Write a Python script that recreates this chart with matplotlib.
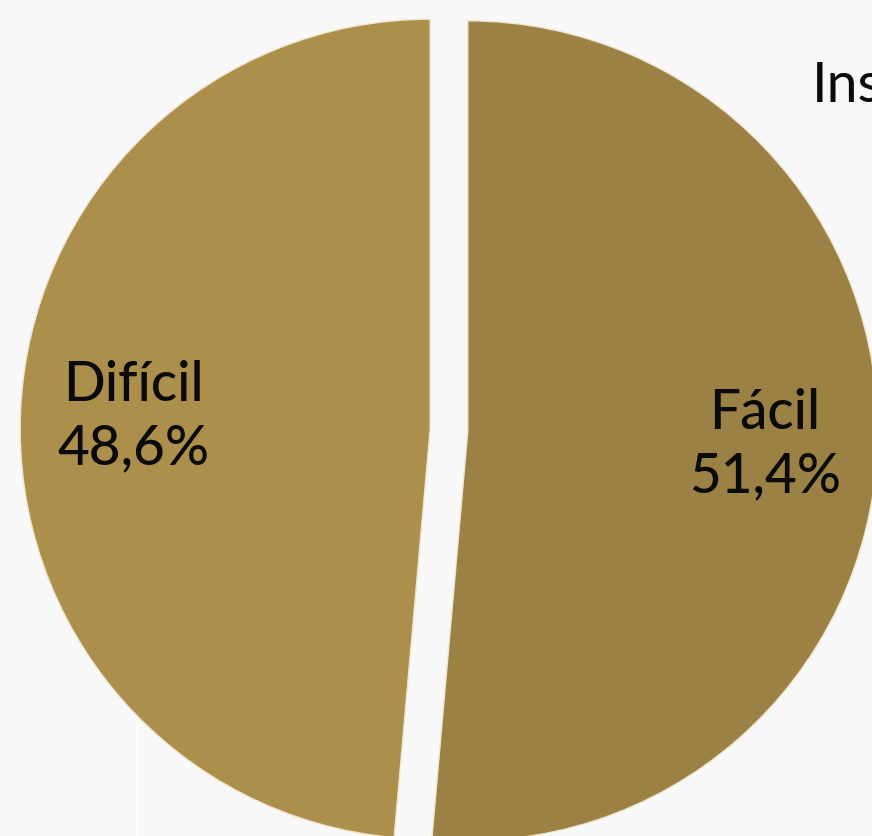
import matplotlib.pyplot as plt
from matplotlib.lines import Line2D

labels = ["Fácil", "Difícil"]
values = [51.4, 48.6]
colors = ["#9b8143", "#ad8f4c"]

plt.rcParams['font.family'] = ['Lato', 'DejaVu Sans']

fig = plt.figure(figsize=(8.72, 8.37), dpi=100, facecolor="#f8f8f8")
ax = fig.add_axes([0, 0, 1, 1])
ax.set_facecolor("#f8f8f8")

def fmt(pct):
    # label text is placed by autopct so it sits inside each wedge
    i = min(range(len(values)), key=lambda k: abs(values[k] - pct))
    return labels[i] + "\n" + f"{values[i]:.1f}".replace(".", ",") + "%"

wedges, texts, autotexts = ax.pie(
    values, colors=colors, startangle=90, counterclock=False,
    explode=[0.046, 0.046], autopct=fmt, pctdistance=0.725,
    wedgeprops=dict(edgecolor="#efe6d2", linewidth=1.0),
    textprops=dict(fontsize=39.5, color="#0a0a0a", fontweight="medium"))
for t in autotexts:
    t.set_linespacing(1.3)

ax.set_aspect("equal")
ax.set_xlim(-449 / 410, 423 / 410)
ax.set_ylim(-406 / 410, 431 / 410)
ax.axis("off")

fig.text(812 / 872, 1 - 102 / 837, "Insatisfação", fontsize=40, color="#0a0a0a",
         ha="left", va="baseline")
fig.add_artist(Line2D([137 / 872, 137 / 872], [0, 1 - 722 / 837],
                      color="white", lw=1.2, transform=fig.transFigure))

fig.savefig("out.png", dpi=100, facecolor=fig.get_facecolor())
